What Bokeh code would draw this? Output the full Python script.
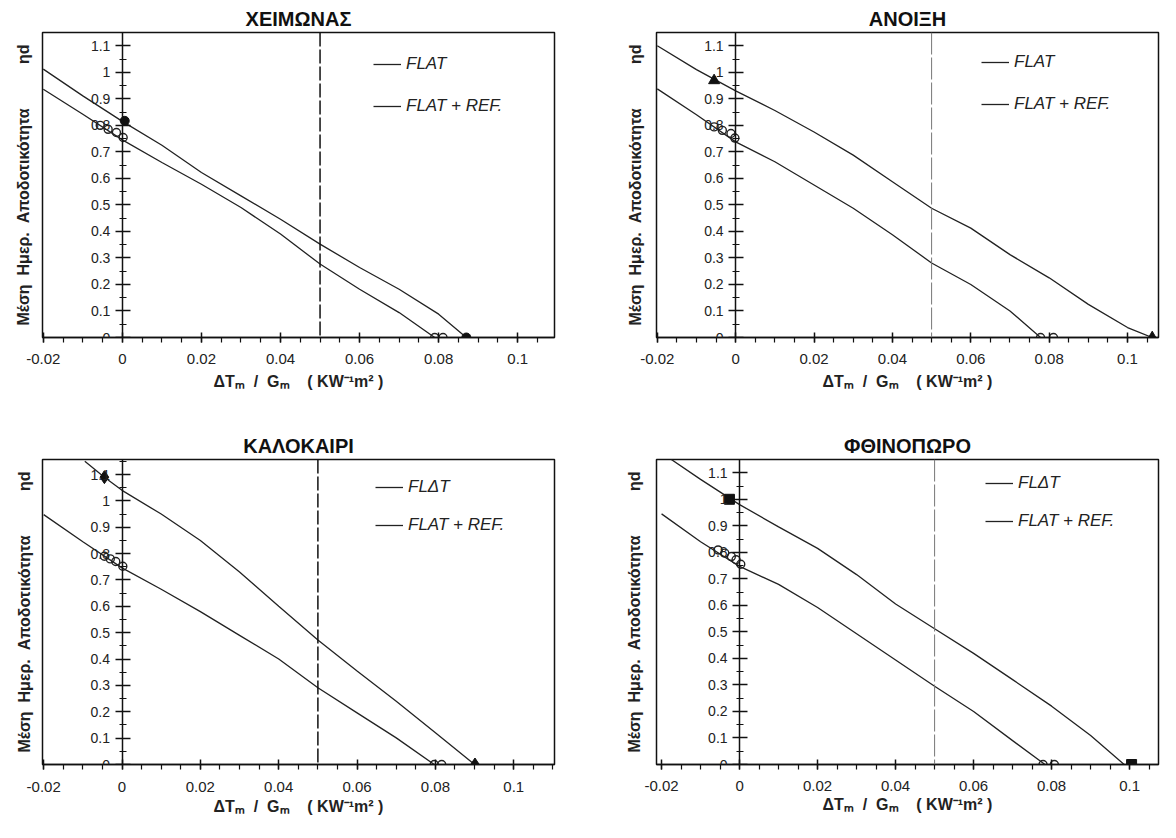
from bokeh.plotting import figure
from bokeh.models import (Span, Legend, LegendItem, Title, SingleIntervalTicker,
                          CustomJSTickFormatter, Range1d)
from bokeh.layouts import gridplot
from bokeh.embed import file_html
from bokeh.resources import INLINE

FONT = "Liberation Sans"
NB = "\u00a0"

# ---------------- data ----------------
seasons = ["ΧΕΙΜΩΝΑΣ", "ΑΝΟΙΞΗ", "ΚΑΛΟΚΑΙΡΙ", "ΦΘΙΝΟΠΩΡΟ"]
flat_labels = ["FLAT", "FLAT", "FLΔT", "FLΔT"]
ref_label = "FLAT + REF."
x_label = "ΔTₘ" + NB * 2 + "/" + NB * 2 + "Gₘ" + NB * 4 + "(" + NB + "KW⁻¹m²" + NB + ")"
y_label = "Μέση" + NB * 2 + "Ημερ." + NB * 2 + "Αποδοτικότητα" + NB * 10 + "ηd"
limit_x = 0.05
ref_markers = ["circle", "triangle", "diamond", "square"]

# ΧΕΙΜΩΝΑΣ
winter_flat_x = [-0.02, -0.01, 0.0, 0.01, 0.02, 0.03, 0.04, 0.05, 0.06, 0.07, 0.079]
winter_flat_y = [0.936, 0.842, 0.745, 0.66, 0.578, 0.49, 0.39, 0.277, 0.182, 0.094, 0.0]
winter_ref_x = [-0.02, -0.01, 0.0, 0.01, 0.02, 0.03, 0.04, 0.05, 0.06, 0.07, 0.08, 0.087]
winter_ref_y = [1.012, 0.911, 0.815, 0.725, 0.622, 0.534, 0.446, 0.352, 0.264, 0.182, 0.088, 0.0]
winter_flat_pts_x = [-0.0056, -0.0036, -0.0015, 0.0002, 0.079, 0.0811]
winter_flat_pts_y = [0.80, 0.785, 0.773, 0.754, 0.0, 0.0]
winter_ref_pts_x = [0.0006, 0.087]
winter_ref_pts_y = [0.817, 0.0]

# ΑΝΟΙΞΗ
spring_flat_x = [-0.02, -0.01, 0.0, 0.01, 0.02, 0.03, 0.04, 0.05, 0.06, 0.07, 0.0778]
spring_flat_y = [0.9375, 0.84, 0.7375, 0.6625, 0.575, 0.4875, 0.3875, 0.281, 0.2, 0.1, 0.0]
spring_ref_x = [-0.02, -0.01, 0.0, 0.01, 0.02, 0.03, 0.04, 0.05, 0.06, 0.07, 0.08, 0.09, 0.1, 0.1063]
spring_ref_y = [1.10, 1.01, 0.93, 0.856, 0.775, 0.6875, 0.5875, 0.4875, 0.4125, 0.3125, 0.225, 0.125, 0.0375, 0.0]
spring_flat_pts_x = [-0.0055, -0.0034, -0.0012, -0.0002, 0.0778, 0.0811]
spring_flat_pts_y = [0.794, 0.781, 0.769, 0.752, 0.0, 0.0]
spring_ref_pts_x = [-0.0055, 0.1063]
spring_ref_pts_y = [0.969, 0.0]

# ΚΑΛΟΚΑΙΡΙ
summer_flat_x = [-0.02, -0.01, 0.0, 0.01, 0.02, 0.03, 0.04, 0.05, 0.06, 0.07, 0.0797]
summer_flat_y = [0.948, 0.845, 0.746, 0.665, 0.58, 0.49, 0.40, 0.291, 0.196, 0.101, 0.0]
summer_ref_x = [-0.0095, -0.0045, 0.0, 0.01, 0.02, 0.03, 0.04, 0.05, 0.06, 0.07, 0.08, 0.09]
summer_ref_y = [1.15, 1.09, 1.04, 0.95, 0.85, 0.73, 0.60, 0.472, 0.355, 0.24, 0.12, 0.0]
summer_flat_pts_x = [-0.0045, -0.003, -0.0016, 0.0002, 0.0797, 0.0816]
summer_flat_pts_y = [0.79, 0.78, 0.77, 0.752, 0.0, 0.0]
summer_ref_pts_x = [-0.0045, 0.0901]
summer_ref_pts_y = [1.09, 0.0]

# ΦΘΙΝΟΠΩΡΟ
autumn_flat_x = [-0.02, -0.01, 0.0, 0.01, 0.02, 0.03, 0.04, 0.05, 0.06, 0.07, 0.0783]
autumn_flat_y = [0.945, 0.84, 0.747, 0.679, 0.592, 0.493, 0.394, 0.295, 0.20, 0.09, 0.0]
autumn_ref_x = [-0.0175, -0.01, 0.0, 0.01, 0.02, 0.03, 0.04, 0.05, 0.06, 0.07, 0.08, 0.09, 0.0986]
autumn_ref_y = [1.15, 1.075, 0.98, 0.896, 0.815, 0.716, 0.605, 0.512, 0.419, 0.32, 0.22, 0.109, 0.0]
autumn_flat_pts_x = [-0.0055, -0.0038, -0.0021, -0.0009, 0.0003, 0.0778, 0.0807]
autumn_flat_pts_y = [0.809, 0.797, 0.784, 0.772, 0.755, 0.0, 0.0]
autumn_ref_pts_x = [-0.0026, 0.1005]
autumn_ref_pts_y = [1.0, 0.0]

series = [
    (winter_flat_x, winter_flat_y, winter_ref_x, winter_ref_y,
     winter_flat_pts_x, winter_flat_pts_y, winter_ref_pts_x, winter_ref_pts_y),
    (spring_flat_x, spring_flat_y, spring_ref_x, spring_ref_y,
     spring_flat_pts_x, spring_flat_pts_y, spring_ref_pts_x, spring_ref_pts_y),
    (summer_flat_x, summer_flat_y, summer_ref_x, summer_ref_y,
     summer_flat_pts_x, summer_flat_pts_y, summer_ref_pts_x, summer_ref_pts_y),
    (autumn_flat_x, autumn_flat_y, autumn_ref_x, autumn_ref_y,
     autumn_flat_pts_x, autumn_flat_pts_y, autumn_ref_pts_x, autumn_ref_pts_y),
]

# ---------------- layout / style per panel ----------------
layout_cfg = [
    dict(b=(42, 24, 32, 74), xr=(-0.0202, 0.1093), yr=1.15, leg=(331, 220), toff=2, xoff=15,
         ls=11, xs=9, ysd=22, vdash="14 3", vcol="#111111", vw=1.5),
    dict(b=(76, 2, 32, 72), xr=(-0.0202, 0.1079), yr=1.15, leg=(325, 222), toff=-14, xoff=27,
         ls=11, xs=9, ysd=25, vdash="22 3", vcol="#777777", vw=1.0),
    dict(b=(42, 26, 48, 58), xr=(-0.0203, 0.1104), yr=1.157, leg=(333, 228), toff=10, xoff=23,
         ls=12, xs=3, ysd=20, vdash="14 3", vcol="#111111", vw=1.5),
    dict(b=(72, 2, 48, 54), xr=(-0.0213, 0.1074), yr=1.15, leg=(329, 232), toff=11, xoff=26,
         ls=11, xs=1, ysd=27, vdash="22 3", vcol="#777777", vw=1.0),
]

fmt_code = "return String(parseFloat(tick.toFixed(4)));"
LINE_COL = "#222222"


def make_panel(i):
    cfg = layout_cfg[i]
    fx, fy, rx, ry, fpx, fpy, rpx, rpy = series[i]
    bl, br, bt, bb = cfg["b"]
    p = figure(width=580, height=411, output_backend="svg", toolbar_location=None,
               x_range=Range1d(*cfg["xr"]), y_range=Range1d(0, cfg["yr"]),
               min_border_left=bl, min_border_right=br, min_border_top=bt, min_border_bottom=bb,
               title=seasons[i])
    p.background_fill_color = "white"
    p.border_fill_color = "white"
    p.outline_line_color = "#111111"
    p.outline_line_width = 1.5
    p.xgrid.visible = False
    p.ygrid.visible = False

    p.title.align = "center"
    p.title.offset = cfg["toff"]
    p.title.standoff = 6
    p.title.text_font = FONT
    p.title.text_font_size = "20px"
    p.title.text_font_style = "bold"
    p.title.text_color = "#111111"

    # x axis
    xa = p.xaxis[0]
    xa.ticker = SingleIntervalTicker(interval=0.02, num_minor_ticks=4)
    xa.formatter = CustomJSTickFormatter(code=fmt_code)
    xa.axis_line_color = "#111111"
    xa.axis_line_width = 1.5
    xa.major_tick_line_color = "#111111"
    xa.major_tick_line_width = 1.5
    xa.minor_tick_line_color = "#111111"
    xa.minor_tick_line_width = 1.2
    xa.major_tick_in = 5
    xa.major_tick_out = 5
    xa.minor_tick_in = 0
    xa.minor_tick_out = 5
    xa.major_label_text_font = FONT
    xa.major_label_text_font_size = "15px"
    xa.major_label_text_color = "#222222"
    xa.major_label_standoff = cfg["ls"]

    # y axis fixed at x = 0
    ya = p.yaxis[0]
    ya.fixed_location = 0
    ya.ticker = SingleIntervalTicker(interval=0.1, num_minor_ticks=2)
    ya.formatter = CustomJSTickFormatter(code=fmt_code)
    ya.axis_line_color = "#111111"
    ya.axis_line_width = 1.5
    ya.major_tick_line_color = "#111111"
    ya.major_tick_line_width = 1.5
    ya.minor_tick_line_color = "#111111"
    ya.minor_tick_line_width = 1.2
    ya.major_tick_in = 8
    ya.major_tick_out = 7
    ya.minor_tick_in = 4
    ya.minor_tick_out = 3
    ya.major_label_text_font = FONT
    ya.major_label_text_font_size = "14px"
    ya.major_label_text_color = "#222222"
    ya.major_label_standoff = 5

    # axis titles
    p.add_layout(Title(text=x_label, align="center", offset=cfg["xoff"], standoff=cfg["xs"],
                       text_font=FONT, text_font_size="16px", text_font_style="bold",
                       text_color="#222222"), "below")
    p.add_layout(Title(text=y_label, align="center", standoff=cfg["ysd"],
                       text_font=FONT, text_font_size="16px", text_font_style="bold",
                       text_color="#222222"), "left")

    # limit line
    p.add_layout(Span(location=limit_x, dimension="height", line_color=cfg["vcol"],
                      line_width=cfg["vw"], line_dash=cfg["vdash"]))

    r_flat = p.line(fx, fy, line_color=LINE_COL, line_width=1.3)
    r_ref = p.line(rx, ry, line_color=LINE_COL, line_width=1.3)
    p.scatter(fpx, fpy, marker="circle", size=8, fill_color="white", fill_alpha=0.0,
              line_color=LINE_COL, line_width=1.4)
    msize = {"circle": 9, "triangle": 11, "diamond": 13, "square": 10}[ref_markers[i]]
    p.scatter(rpx, rpy, marker=ref_markers[i], size=msize, fill_color="#111111",
              line_color="#111111")

    legend = Legend(items=[LegendItem(label=flat_labels[i], renderers=[r_flat]),
                           LegendItem(label=ref_label, renderers=[r_ref])],
                    location=cfg["leg"], padding=0, margin=0,
                    border_line_color=None, background_fill_alpha=0.0,
                    label_text_font=FONT, label_text_font_style="italic",
                    label_text_font_size="17px", label_text_color="#222222",
                    glyph_width=28, glyph_height=22, label_height=22,
                    spacing=20 if i < 2 else 16, label_standoff=5)
    p.add_layout(legend)
    return p


panels = [make_panel(i) for i in range(4)]
grid = gridplot([[panels[0], panels[1]], [panels[2], panels[3]]], toolbar_location=None)

open("out.html", "w").write(file_html(grid, INLINE))
